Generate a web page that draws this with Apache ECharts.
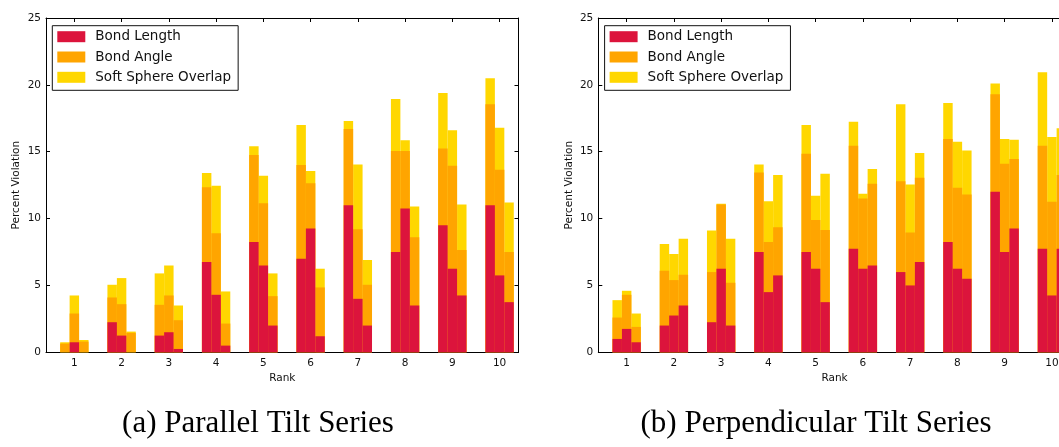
<!DOCTYPE html>
<html><head><meta charset="utf-8">
<script src="https://cdn.jsdelivr.net/npm/echarts@6/dist/echarts.min.js"></script>
<style>html,body{margin:0;padding:0;background:#fff;overflow:hidden}#c{width:1090px;height:447px}</style>
</head><body><div id="c"></div>
<script>
const ranks = [1,2,3,4,5,6,7,8,9,10];
const seriesNames = ['Bond Length','Bond Angle','Soft Sphere Overlap'];
const seriesColors = ['#DC143C','#FFA500','#FFD700'];
const yTicks = [0,5,10,15,20,25];
const captions = ['(a) Parallel Tilt Series','(b) Perpendicular Tilt Series'];

// Each rank has three adjacent bars; values are the stacked segment heights (%)
const parallelBondLength = [[0,0.75,0],[2.25,1.25,0],[1.25,1.5,0.25],[6.75,4.3,0.5],[8.25,6.5,2.0],[7.0,9.25,1.2],[11.0,4.0,2.0],[7.5,10.75,3.5],[9.5,6.25,4.25],[11.0,5.75,3.75]];
const parallelBondAngle = [[0.65,2.15,0.8],[1.85,2.35,1.45],[2.3,2.75,2.15],[5.6,4.6,1.65],[6.5,4.65,2.2],[7.0,3.4,3.65],[5.7,5.2,3.05],[7.55,4.3,5.1],[5.75,7.7,3.4],[7.55,7.9,3.75]];
const parallelSoftSphere = [[0.1,1.35,0.12],[0.95,1.95,0.1],[2.35,2.25,1.1],[1.05,3.55,2.4],[0.65,2.05,1.7],[3.0,0.9,1.4],[0.6,4.85,1.85],[3.9,0.8,2.3],[4.15,2.65,3.4],[1.95,3.15,3.7]];

const perpBondLength = [[1.0,1.75,0.75],[2.0,2.75,3.5],[2.25,6.25,2.0],[7.5,4.5,5.75],[7.5,6.25,3.75],[7.75,6.25,6.5],[6.0,5.0,6.75],[8.25,6.25,5.5],[12.0,7.5,9.25],[7.75,4.25,7.75]];
const perpBondAngle = [[1.6,2.55,1.15],[4.1,2.65,2.3],[3.75,4.8,3.2],[5.95,3.75,3.6],[7.35,3.65,5.4],[7.7,5.25,6.1],[6.8,3.95,6.3],[7.7,6.05,6.3],[7.3,6.6,5.2],[7.7,7.0,5.5]];
const perpSoftSphere = [[1.3,0.3,1.0],[2.0,1.95,2.7],[3.1,0.05,3.3],[0.6,3.05,3.9],[2.15,1.8,4.2],[1.8,0.35,1.1],[5.75,3.6,1.85],[2.7,3.45,3.3],[0.8,1.85,1.45],[5.5,4.85,3.5]];

const panels = [
  [parallelBondLength, parallelBondAngle, parallelSoftSphere],
  [perpBondLength, perpBondAngle, perpSoftSphere]
];

const gridLefts = [46, 598.3];
const FONT = '"DejaVu Sans", sans-serif';
const subBar = 0.2; // bar width in rank units

const grids = [], xAxes = [], yAxes = [], series = [], legends = [], graphics = [];
panels.forEach((panel, p) => {
  grids.push({left: gridLefts[p], top: 18, width: 472.5, height: 334.3, containLabel: false});
  const axLine = {show: true, onZero: false, lineStyle: {color: '#000', width: 1}};
  const tick = {show: true, inside: true, length: 4, lineStyle: {color: '#000', width: 1}};
  xAxes.push({
    type: 'value', gridIndex: p, position: 'bottom', min: 0.4, max: 10.4,
    axisLine: axLine, axisTick: Object.assign({customValues: ranks}, tick),
    axisLabel: {customValues: ranks, fontSize: 10.5, color: '#111', margin: 5, fontFamily: FONT},
    splitLine: {show: false},
    name: 'Rank', nameLocation: 'middle', nameGap: 19,
    nameTextStyle: {fontSize: 10.5, color: '#111', fontFamily: FONT}
  });
  xAxes.push({
    type: 'value', gridIndex: p, position: 'top', min: 0.4, max: 10.4,
    axisLine: axLine, axisTick: Object.assign({customValues: ranks}, tick),
    axisLabel: {show: false}, splitLine: {show: false}
  });
  yAxes.push({
    type: 'value', gridIndex: p, position: 'left', min: 0, max: 25, interval: 5,
    axisLine: axLine, axisTick: tick,
    axisLabel: {fontSize: 10.5, color: '#111', margin: 5, fontFamily: FONT},
    splitLine: {show: false},
    name: 'Percent Violation', nameLocation: 'middle', nameGap: 24, nameRotate: 90,
    nameTextStyle: {fontSize: 10.5, color: '#111', fontFamily: FONT}
  });
  yAxes.push({
    type: 'value', gridIndex: p, position: 'right', min: 0, max: 25, interval: 5,
    axisLine: axLine, axisTick: tick, axisLabel: {show: false}, splitLine: {show: false}
  });
  // cumulative tops: drawn back (total) to front (bond length), overlapping
  const order = [2, 1, 0];
  order.forEach((t) => {
    const data = [];
    ranks.forEach((r, k) => {
      for (let i = 0; i < 3; i++) {
        let top = 0;
        for (let s = 0; s <= t; s++) top += panel[s][k][i];
        data.push([Math.round((r + (i - 1) * subBar) * 100) / 100, top]);
      }
    });
    series.push({
      type: 'bar', name: seriesNames[t], xAxisIndex: p * 2, yAxisIndex: p * 2,
      data: data, barWidth: 472.5 / 10 * subBar, barGap: '-100%',
      itemStyle: {color: seriesColors[t]}, emphasis: {disabled: true}, silent: true
    });
  });
  legends.push({
    left: gridLefts[p] + 6.3, top: 25.7, orient: 'vertical', data: seriesNames,
    icon: 'rect', itemWidth: 28, itemHeight: 11, itemGap: 6.3,
    padding: [4, 7, 6, 5], borderColor: '#111', borderWidth: 1, borderRadius: 0,
    backgroundColor: '#fff', selectedMode: false,
    textStyle: {fontSize: 13.5, lineHeight: 13, color: '#111', fontFamily: FONT, padding: [0, 0, 0, 5]}
  });
});

graphics.push({type: 'text', x: 258, y: 424, style: {text: captions[0], textAlign: 'center', textVerticalAlign: 'middle', font: '31px "Liberation Serif", serif', fill: '#000'}});
graphics.push({type: 'text', x: 816, y: 424, style: {text: captions[1], textAlign: 'center', textVerticalAlign: 'middle', font: '31px "Liberation Serif", serif', fill: '#000'}});

const chart = echarts.init(document.getElementById('c'), null, {renderer: 'canvas'});
chart.setOption({
  animation: false,
  backgroundColor: '#fff',
  grid: grids, xAxis: xAxes, yAxis: yAxes, series: series, legend: legends,
  graphic: graphics
});
</script></body></html>
